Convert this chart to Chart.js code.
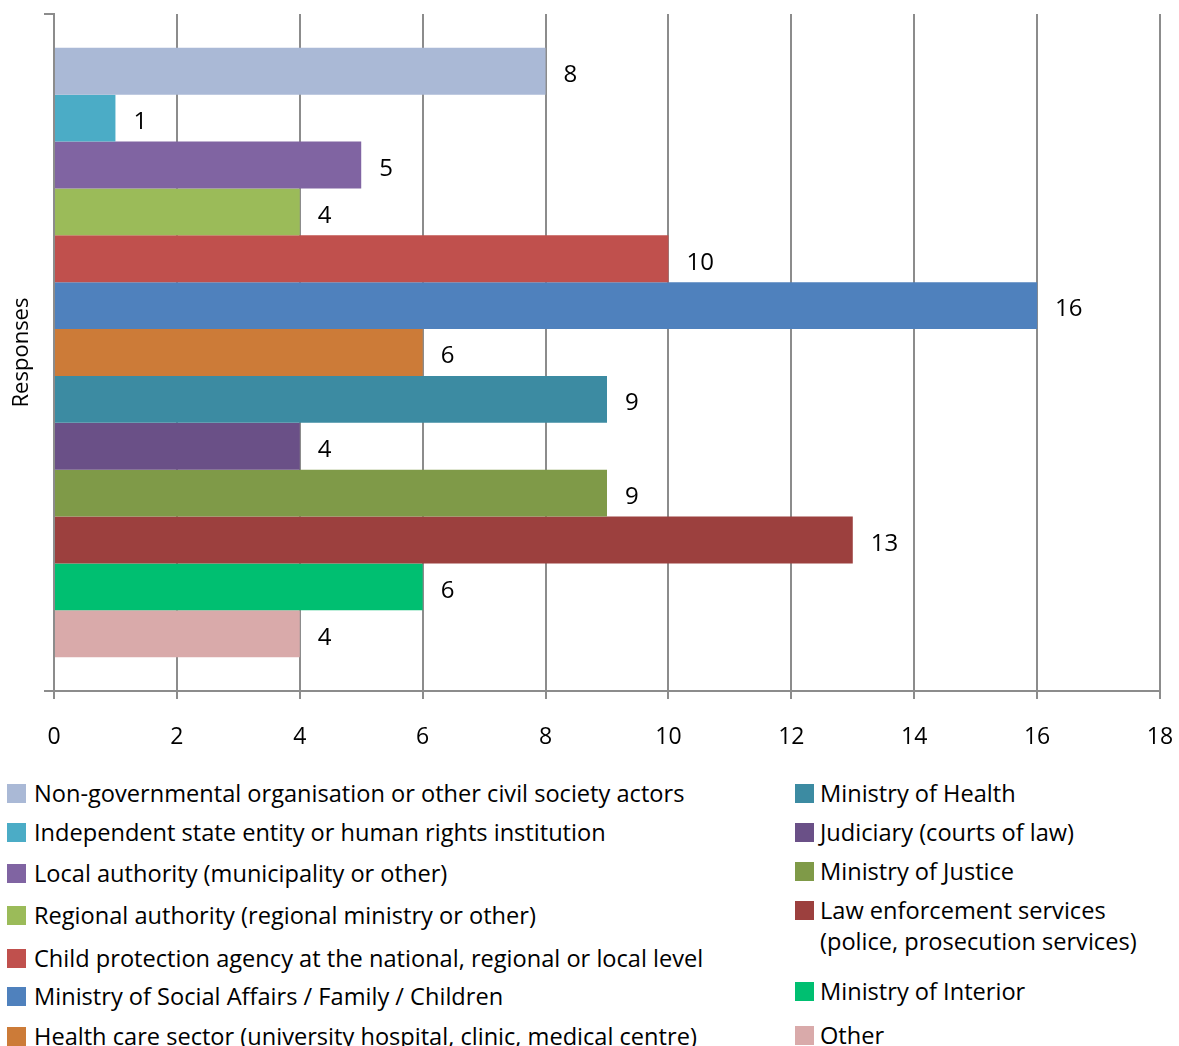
<!DOCTYPE html>
<html>
<head>
<meta charset="utf-8">
<script src="https://cdn.jsdelivr.net/npm/chart.js@4"></script>
<style>
  html, body { margin: 0; padding: 0; background: #fff; }
  #wrap { position: relative; width: 1179px; height: 1046px; overflow: hidden; font-family: "Open Sans", sans-serif; color: #000; }
  #c { position: absolute; left: 0; top: 0; }
  .item { position: absolute; white-space: nowrap; line-height: 31px; }
  .box { position: absolute; width: 19px; height: 19px; }
</style>
</head>
<body>
<div id="wrap">
  <canvas id="c" width="1179" height="760"></canvas>
</div>
<script>
// ---- data ----
const categories = [
  "Non-governmental organisation or other civil society actors",
  "Independent state entity or human rights institution",
  "Local authority (municipality or other)",
  "Regional authority (regional ministry or other)",
  "Child protection agency at the national, regional or local level",
  "Ministry of Social Affairs / Family / Children",
  "Health care sector (university hospital, clinic, medical centre)",
  "Ministry of Health",
  "Judiciary (courts of law)",
  "Ministry of Justice",
  "Law enforcement services\n(police, prosecution services)",
  "Ministry of Interior",
  "Other"
];
const values = [8, 1, 5, 4, 10, 16, 6, 9, 4, 9, 13, 6, 4];
const colors = [
  "#AAB9D6", "#4BACC6", "#8064A2", "#9BBB59", "#C0504D", "#4F81BD", "#CC7B38",
  "#3C8BA2", "#6A5087", "#7F9A48", "#9C403E", "#00BF71", "#D9AAAA"
];
const axisLabel = "Responses";
const xTicks = [0, 2, 4, 6, 8, 10, 12, 14, 16, 18];

// ---- legend layout (two columns) ----
const leftCount = 7;
const legendLeft = { box: 7, text: 34, rows: [793, 832, 873, 915, 958, 996, 1036] };
const legendRight = { box: 795, text: 820, rows: [793, 832, 871, 910, 991, 1035] };

const FONT = '"Open Sans", sans-serif';
const gridColor = "#8c8c8c";

// fit legend font size to reference width of longest left line
const mctx = document.createElement("canvas").getContext("2d");
mctx.font = "100px " + FONT;
const wRef = mctx.measureText(categories[0]).width;
const legendSize = Math.round(651 / wRef * 100 * 10) / 10;

const wrap = document.getElementById("wrap");
categories.forEach((cat, i) => {
  const col = i < leftCount ? legendLeft : legendRight;
  const cy = col.rows[i < leftCount ? i : i - leftCount];
  const box = document.createElement("div");
  box.className = "box";
  box.style.left = col.box + "px";
  box.style.top = (cy - 9.5) + "px";
  box.style.background = colors[i];
  wrap.appendChild(box);
  const t = document.createElement("div");
  t.className = "item";
  t.style.left = col.text + "px";
  t.style.top = (cy - 15.5) + "px";
  t.style.fontSize = legendSize + "px";
  t.innerHTML = cat.split("\n").join("<br>");
  wrap.appendChild(t);
});

const valueLabels = {
  id: "valueLabels",
  afterDatasetsDraw(chart) {
    const ctx = chart.ctx;
    ctx.save();
    ctx.font = "24px " + FONT;
    ctx.fillStyle = "#000";
    ctx.textAlign = "left";
    ctx.textBaseline = "middle";
    chart.data.datasets.forEach((ds, i) => {
      const meta = chart.getDatasetMeta(i);
      meta.data.forEach((el, j) => {
        ctx.fillText(String(ds.data[j]), el.x + 18, el.y + 4);
      });
    });
    ctx.restore();
  }
};

new Chart(document.getElementById("c"), {
  type: "bar",
  data: {
    labels: [axisLabel],
    datasets: categories.map((c, i) => ({
      label: c.replace("\n", " "),
      data: [values[i]],
      backgroundColor: colors[i],
      borderWidth: 0,
      categoryPercentage: 0.9,
      barPercentage: 1.0
    }))
  },
  options: {
    indexAxis: "y",
    responsive: false,
    animation: false,
    devicePixelRatio: 1,
    layout: { padding: { top: 14, right: 19, left: 0, bottom: 0 } },
    plugins: { legend: { display: false }, tooltip: { enabled: false } },
    scales: {
      x: {
        type: "linear",
        min: xTicks[0],
        max: xTicks[xTicks.length - 1],
        afterBuildTicks(scale) { scale.ticks = xTicks.map(v => ({ value: v })); },
        afterFit(scale) {
          scale.height = 760 - 691;
          scale.paddingLeft = 0; scale.paddingRight = 0;
        },
        ticks: { color: "#000", font: { family: FONT, size: 23 }, padding: 25, maxRotation: 0 },
        grid: { color: gridColor, lineWidth: 2, tickLength: 8, drawTicks: true },
        border: { display: true, color: gridColor, width: 2 }
      },
      y: {
        afterFit(scale) {
          scale.width = 54;
          scale.paddingTop = 0; scale.paddingBottom = 0;
        },
        ticks: { display: false },
        grid: { color: gridColor, lineWidth: 2, drawOnChartArea: false, tickLength: 10, offset: true },
        border: { display: true, color: gridColor, width: 2 },
        title: { display: true, text: axisLabel, color: "#000", font: { family: FONT, size: 22 }, padding: { top: 9, bottom: 0 } }
      }
    }
  },
  plugins: [valueLabels]
});
</script>
</body>
</html>
